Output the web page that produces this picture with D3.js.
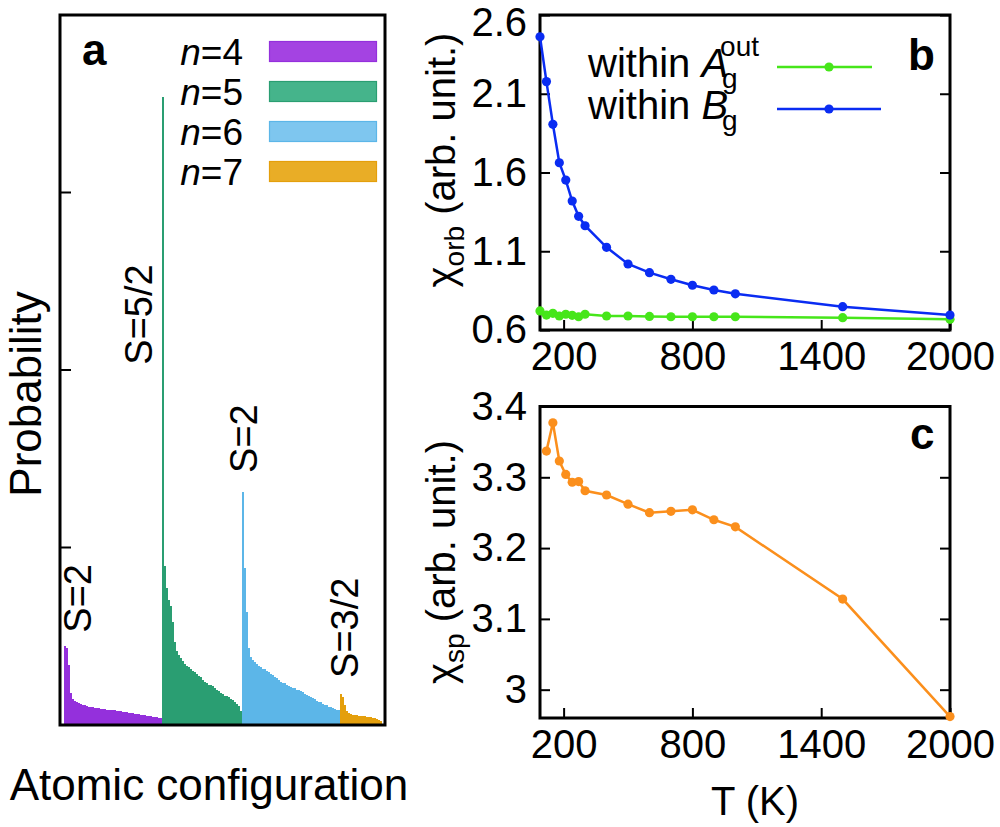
<!DOCTYPE html>
<html><head><meta charset="utf-8">
<script src="https://cdn.jsdelivr.net/npm/d3@7"></script>
<style>body{margin:0;background:#fff}svg{font-family:"Liberation Sans",Arial,Helvetica,sans-serif}</style>
</head><body><svg id="c" width="1000" height="827"></svg>
<script>
// ---------- data ----------
const groups = ["4", "5", "6", "7"];
const probN4 = [0.445,0.434,0.338,0.180,0.146,0.135,0.130,0.124,0.118,0.113,0.110,0.107,0.104,0.101,0.099,0.096,0.094,0.093,0.091,0.090,0.088,0.087,0.086,0.085,0.083,0.082,0.081,0.079,0.077,0.075,0.073,0.071,0.069,0.068,0.066,0.064,0.062,0.060,0.058,0.056,0.055,0.052,0.051,0.049,0.047,0.045,0.043,0.042,0.039];
const probN5 = [3.538,0.896,0.772,0.704,0.670,0.580,0.468,0.417,0.394,0.377,0.361,0.346,0.335,0.324,0.315,0.307,0.296,0.285,0.276,0.268,0.256,0.245,0.237,0.228,0.223,0.217,0.208,0.200,0.189,0.180,0.172,0.166,0.161,0.155,0.149,0.141,0.132,0.121,0.107,0.079];
const probN6 = [1.313,0.885,0.637,0.434,0.383,0.366,0.355,0.344,0.335,0.327,0.318,0.313,0.304,0.296,0.287,0.279,0.270,0.262,0.254,0.245,0.239,0.234,0.225,0.220,0.214,0.210,0.206,0.200,0.195,0.192,0.186,0.177,0.170,0.163,0.158,0.152,0.144,0.138,0.132,0.127,0.121,0.115,0.110,0.104,0.100,0.096,0.092,0.087,0.082];
const probN7 = [0.177,0.158,0.113,0.079,0.068,0.062,0.059,0.056,0.055,0.053,0.051,0.050,0.048,0.046,0.045,0.043,0.042,0.038,0.034,0.028,0.020];
const spinLabels = ["S=2", "S=5/2", "S=2", "S=3/2"];
const probTicks = [1, 2, 3];

const temps = [90,120,150,180,210,240,270,300,400,500,600,700,800,900,1000,1500,2000];
const chiAg = [0.721,0.695,0.706,0.689,0.700,0.693,0.684,0.700,0.689,0.689,0.686,0.684,0.684,0.684,0.684,0.678,0.668];
const chiBg = [2.462,2.177,1.906,1.662,1.552,1.419,1.322,1.262,1.125,1.019,0.964,0.922,0.884,0.854,0.830,0.748,0.695];
const tempsSp = [120,150,180,210,240,270,300,400,500,600,700,800,900,1000,1500,2000];
const chiSp = [3.337,3.377,3.323,3.304,3.293,3.294,3.281,3.275,3.262,3.250,3.252,3.254,3.240,3.230,3.128,2.962];
const tTicks = [200, 800, 1400, 2000];
const orbTicks = [0.6, 1.1, 1.6, 2.1, 2.6];
const spTicks = [3.0, 3.1, 3.2, 3.3, 3.4];

// ---------- styles ----------
const barColors = ["#9430dc", "#2a9e72", "#5cb6e8", "#e49f0c"];
const swatchFill = ["#a443e2", "#45b48b", "#7ec6ef", "#e9ad26"];
const cGreen = "#46e61a", cBlue = "#0a2cf2", cOrange = "#fb8f1c";
const svg = d3.select("#c");

// ---------- panel a ----------
const groupData = [probN4, probN5, probN6, probN7];
const total = d3.sum(groupData, d => d.length);
const xa = d3.scaleLinear().domain([0, total]).range([64, 382]);
const ya = d3.scaleLinear().domain([0, 4]).range([725, 15]);
const pa = svg.append("g");
let off = 0;
groupData.forEach((arr, g) => {
  pa.append("g").selectAll("rect").data(arr).join("rect")
    .attr("x", (d, i) => xa(off + i))
    .attr("width", xa(1) - xa(0))
    .attr("y", d => ya(d))
    .attr("height", d => ya(0) - ya(d))
    .attr("fill", barColors[g])
    .attr("shape-rendering", "crispEdges");
  off += arr.length;
});
pa.append("rect").attr("x", 60).attr("y", 15).attr("width", 325).attr("height", 710)
  .attr("fill", "none").attr("stroke", "#000").attr("stroke-width", 3);
pa.selectAll("line.tk").data(probTicks).join("line")
  .attr("x1", 60).attr("x2", 71).attr("y1", d => ya(d)).attr("y2", d => ya(d))
  .attr("stroke", "#000").attr("stroke-width", 2);
const spinPos = [[13.5, 0.52], [44, 2.03], [96.5, 1.42], [147, 0.265]];
spinLabels.forEach((s, i) => {
  pa.append("text")
    .attr("transform", `translate(${xa(spinPos[i][0])},${ya(spinPos[i][1])}) rotate(-90)`)
    .attr("font-size", 38).text(s);
});
groups.forEach((g, i) => {
  const yb = 65 + i * 40;
  const t = pa.append("text").attr("x", 243).attr("y", yb).attr("text-anchor", "end").attr("font-size", 37);
  t.append("tspan").attr("font-style", "italic").text("n");
  t.append("tspan").text("=" + g);
  pa.append("rect").attr("x", 269.5).attr("y", yb - 23.5).attr("width", 107).attr("height", 20)
    .attr("fill", swatchFill[i]).attr("stroke", barColors[i]).attr("stroke-width", 1.2);
});
pa.append("text").attr("x", 82).attr("y", 65).attr("font-size", 44).attr("font-weight", "bold").text("a");
pa.append("text").attr("transform", "translate(41,394) rotate(-90)").attr("text-anchor", "middle")
  .attr("font-size", 44).text("Probability");
pa.append("text").attr("x", 209).attr("y", 800).attr("text-anchor", "middle")
  .attr("font-size", 44).text("Atomic configuration");

// ---------- helpers for b, c ----------
const xT = d3.scaleLinear().domain([90, 2000]).range([540, 950]);
function frameAxes(g, y, yTicks, top, bottom, fmt) {
  g.append("rect").attr("x", 540).attr("y", top).attr("width", 410).attr("height", bottom - top)
    .attr("fill", "none").attr("stroke", "#000").attr("stroke-width", 3);
  const ax = g.append("g").attr("transform", `translate(540,0)`)
    .call(d3.axisLeft(y).tickValues(yTicks).tickSize(-10).tickSizeOuter(0).tickPadding(13).tickFormat(fmt));
  const ax2 = g.append("g").attr("transform", `translate(950,0)`)
    .call(d3.axisRight(y).tickValues(yTicks).tickSize(-10).tickSizeOuter(0).tickFormat(""));
  const ax3 = g.append("g").attr("transform", `translate(0,${bottom})`)
    .call(d3.axisBottom(xT).tickValues(tTicks).tickSize(-10).tickSizeOuter(0).tickPadding(12).tickFormat(d3.format("d")));
  [ax, ax2, ax3].forEach(a => {
    a.select(".domain").remove();
    a.selectAll("line").attr("stroke-width", 2);
    a.selectAll("text").attr("font-size", 40).attr("fill", "#000")
      .attr("font-family", '"Liberation Sans",Arial,sans-serif');
  });
  return ax;
}
function series(g, xs, ys, y, color) {
  const line = d3.line().x((d, i) => xT(xs[i])).y(d => y(d));
  g.append("path").attr("d", line(ys)).attr("fill", "none").attr("stroke", color).attr("stroke-width", 2.5);
  g.append("g").selectAll("circle").data(ys).join("circle")
    .attr("cx", (d, i) => xT(xs[i])).attr("cy", d => y(d)).attr("r", 4.6).attr("fill", color);
}

// ---------- panel b ----------
const yb = d3.scaleLinear().domain([0.6, 2.6]).range([330, 15]);
const pb = svg.append("g");
const axb = frameAxes(pb, yb, orbTicks, 15, 330, d3.format(".1f"));
axb.selectAll(".tick").filter(d => d === 2.6).select("text").attr("dy", "0.5em");
series(pb, temps, chiAg, yb, cGreen);
series(pb, temps, chiBg, yb, cBlue);
pb.append("text").attr("x", 908).attr("y", 70).attr("font-size", 44).attr("font-weight", "bold").text("b");
function legendRow(baseY, letter, sup, color, x2) {
  const t = pb.append("text").attr("x", 588).attr("y", baseY).attr("font-size", 40);
  t.append("tspan").text("within ");
  t.append("tspan").attr("font-style", "italic").text(letter);
  const len = t.node().getComputedTextLength();
  pb.append("text").attr("x", 588 + len - 6).attr("y", baseY + 11).attr("font-size", 28).text("g");
  if (sup) pb.append("text").attr("x", 588 + len - 8).attr("y", baseY - 21).attr("font-size", 28).text(sup);
  pb.append("line").attr("x1", 777).attr("x2", x2).attr("y1", baseY - 10).attr("y2", baseY - 10)
    .attr("stroke", color).attr("stroke-width", 2.5);
  pb.append("circle").attr("cx", 829).attr("cy", baseY - 10).attr("r", 4.6).attr("fill", color);
}
legendRow(77, "A", "out", cGreen, 872);
legendRow(119, "B", null, cBlue, 881);
const tb = pb.append("text").attr("transform", "translate(455,160) rotate(-90)").attr("text-anchor", "middle").attr("font-size", 40);
tb.append("tspan").text("χ");
tb.append("tspan").attr("font-size", 28).attr("dy", 9).text("orb");
tb.append("tspan").attr("dy", -9).text(" (arb. unit.)");

// ---------- panel c ----------
const yc = d3.scaleLinear().domain([2.96, 3.4]).range([718, 406.5]);
const pc = svg.append("g");
frameAxes(pc, yc, spTicks, 406.5, 718, d3.format("~g"));
series(pc, tempsSp, chiSp, yc, cOrange);
pc.append("text").attr("x", 910).attr("y", 449).attr("font-size", 44).attr("font-weight", "bold").text("c");
const tc = pc.append("text").attr("transform", "translate(455,562) rotate(-90)").attr("text-anchor", "middle").attr("font-size", 40);
tc.append("tspan").text("χ");
tc.append("tspan").attr("font-size", 28).attr("dy", 9).text("sp");
tc.append("tspan").attr("dy", -9).text(" (arb. unit.)");
pc.append("text").attr("x", 755).attr("y", 815).attr("text-anchor", "middle").attr("font-size", 40).text("T (K)");
</script></body></html>
